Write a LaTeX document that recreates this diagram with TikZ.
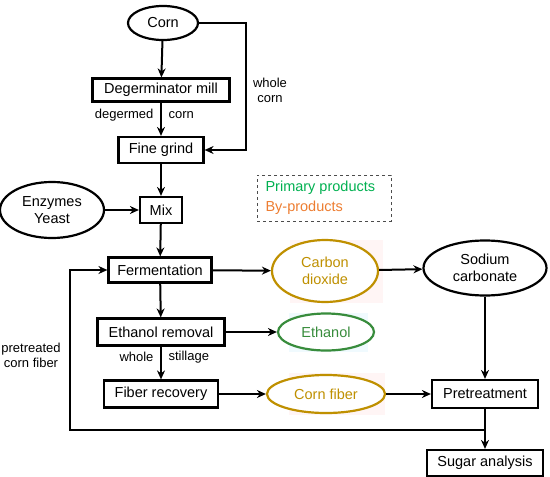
\documentclass[tikz,border=0pt]{standalone}
\usepackage{fontspec}
\setmainfont{Liberation Sans}
\usetikzlibrary{arrows.meta,shapes.geometric}
\definecolor{gold}{RGB}{191,144,0}
\definecolor{pgreen}{RGB}{0,176,80}
\definecolor{borange}{RGB}{237,125,49}
\definecolor{egreen}{RGB}{56,140,60}
\tikzset{
  box/.style={draw=black,line width=2.2pt,fill=white,inner sep=0pt,font=\fontsize{14.5}{16.5}\selectfont},
  ell/.style={draw=black,ellipse,line width=2.2pt,fill=white,inner sep=0pt,align=center,font=\fontsize{14.5}{16.5}\selectfont},
  lab/.style={font=\fontsize{13}{15}\selectfont,align=center},
  arr/.style={line width=2pt,-{Stealth[length=9pt,width=8pt]}},
}
\begin{document}
\begin{tikzpicture}[x=1pt,y=-1pt]
\useasboundingbox (0,0) rectangle (550,477);
% nodes
\node[ell,minimum width=70,minimum height=34] (corn) at (163,23) {Corn};
\node[box,minimum width=137,minimum height=23] (degm) at (161,90) {Degerminator mill};
\node[box,minimum width=85,minimum height=26] (fine) at (161,150) {Fine grind};
\node[box,minimum width=42,minimum height=26] (mix) at (161,210) {Mix};
\node[ell,minimum width=104,minimum height=56] (enz) at (52,210) {Enzymes\\Yeast};
\node[draw=black!70,dashed,line width=1pt,minimum width=134,minimum height=46,inner sep=0pt] (leg) at (324,198) {};
\node[font=\fontsize{14.5}{16.5}\selectfont,text=pgreen,anchor=west] (lp) at (262,188) {Primary products};
\node[font=\fontsize{14.5}{16.5}\selectfont,text=borange,anchor=west] (lb) at (262,208) {By-products};
\node[box,minimum width=103,minimum height=25] (ferm) at (160,270) {Fermentation};
\fill[red!4] (290,240) rectangle (383,303);
\node[ell,draw=gold,text=gold,minimum width=106,minimum height=62] (co2) at (325,271) {Carbon\\dioxide};
\node[ell,minimum width=123,minimum height=55] (soda) at (485,268) {Sodium\\carbonate};
\node[box,minimum width=127,minimum height=27] (etr) at (161,332) {Ethanol removal};
\fill[cyan!6] (289,313) rectangle (368,352);
\node[ell,draw=egreen,text=egreen,minimum width=96,minimum height=37] (eth) at (326,332) {Ethanol};
\node[box,minimum width=114,minimum height=27] (fib) at (161,394) {Fiber recovery};
\fill[red!4] (289,373) rectangle (385,415);
\node[ell,draw=gold,text=gold,minimum width=118,minimum height=38] (cf) at (326,394) {Corn fiber};
\node[box,minimum width=106,minimum height=28] (pre) at (485,394) {Pretreatment};
\node[box,minimum width=116,minimum height=26] (sug) at (485,463) {Sugar analysis};
% labels
\node[lab] (lwc) at (270,90) {whole\\corn};
\node[lab,anchor=east] (ld1) at (157,115) {degermed};
\node[lab,anchor=west] (ld2) at (165,115) {corn};
\node[lab,anchor=east] (lw1) at (157,357) {whole};
\node[lab,anchor=west] (lw2) at (165,357) {stillage};
\node[lab] (lpc) at (31,355) {pretreated\\corn fiber};
\coordinate (c1) at (246,23);
\coordinate (c2) at (246,150);
\coordinate (f1) at (485,430);
\coordinate (f2) at (70,430);
\coordinate (f3) at (70,270);
% connectors
\draw[arr] (corn) -- (degm);
\draw[arr] (degm) -- (fine);
\draw[arr] (corn.east) -- (c1) -- (c2) -- (fine.east);
\draw[arr] (fine) -- (mix);
\draw[arr] (enz) -- (mix);
\draw[arr] (mix) -- (ferm);
\draw[arr] (ferm) -- (co2);
\draw[arr] (co2) -- (soda);
\draw[arr] (ferm) -- (etr);
\draw[arr] (etr) -- (eth);
\draw[arr] (etr) -- (fib);
\draw[arr] (fib) -- (cf);
\draw[arr] (cf) -- (pre);
\draw[arr] (soda) -- (pre);
\draw[arr] (pre.south) -- (sug.north);
\draw[arr] (f1) -- (f2) -- (f3) -- (ferm.west);
\end{tikzpicture}
\end{document}
